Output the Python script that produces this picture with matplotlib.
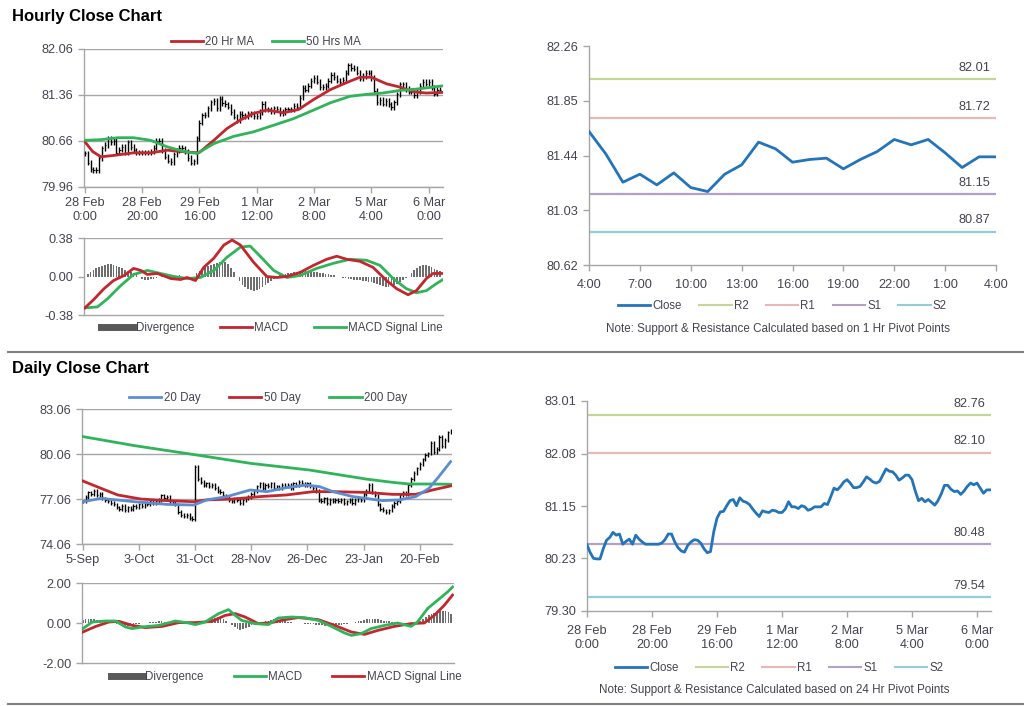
import numpy as np
import matplotlib
matplotlib.use("Agg")
import matplotlib.pyplot as plt
from matplotlib.lines import Line2D

plt.rcParams['font.family'] = ['Liberation Sans', 'DejaVu Sans']

# ---------------- hourly data (28 Feb 0:00 -> 6 Mar 4:00, trading hours) ----------------
hourly_close = [
    80.47, 80.33, 80.23, 80.22, 80.22, 80.40, 80.55, 80.60, 80.69, 80.64,
    80.66, 80.48, 80.53, 80.57, 80.48, 80.64, 80.57, 80.52, 80.48, 80.48,
    80.48, 80.48, 80.48, 80.50, 80.56, 80.66, 80.66, 80.52, 80.42, 80.36,
    80.34, 80.46, 80.52, 80.56, 80.55, 80.50, 80.40, 80.33, 80.35, 80.70,
    80.94, 81.05, 81.06, 81.16, 81.25, 81.27, 81.16, 81.30, 81.24, 81.22,
    81.18, 81.10, 81.03, 80.97, 81.07, 81.05, 81.04, 81.08, 81.07, 81.04,
    81.04, 81.10, 81.23, 81.14, 81.14, 81.11, 81.16, 81.14, 81.08, 81.10,
    81.14, 81.14, 81.14, 81.20, 81.18, 81.32, 81.47, 81.44, 81.50, 81.58,
    81.62, 81.56, 81.48, 81.48, 81.50, 81.58, 81.67, 81.63, 81.58, 81.56,
    81.59, 81.70, 81.81, 81.77, 81.76, 81.70, 81.61, 81.65, 81.70, 81.70,
    81.62, 81.42, 81.25, 81.29, 81.23, 81.27, 81.22, 81.17, 81.25, 81.37,
    81.52, 81.52, 81.45, 81.41, 81.42, 81.36, 81.42, 81.50, 81.56, 81.53,
    81.56, 81.47, 81.38, 81.44, 81.44,
]
hourly_ticks = ["28 Feb\n0:00", "28 Feb\n20:00", "29 Feb\n16:00", "1 Mar\n12:00",
                "2 Mar\n8:00", "5 Mar\n4:00", "6 Mar\n0:00"]

ma20_h = [0, 2.7, 5.6, 10, 17, 23, 28.8, 33.4, 39.8, 45, 49.6, 54.3, 58.9, 63.5,
          69.3, 74.6, 79.8, 85.6, 91.4, 96, 100, 105.3, 110, 114.6, 119.2, 125]
ma20_v = [80.65, 80.50, 80.42, 80.44, 80.48, 80.48, 80.52, 80.50, 80.48, 80.67, 80.85,
          80.98, 81.08, 81.13, 81.09, 81.14, 81.29, 81.44, 81.55, 81.63, 81.63, 81.53,
          81.48, 81.41, 81.39, 81.40]
ma50_h = [0, 5.6, 11.4, 17, 23, 28.8, 34.6, 39.2, 45, 51.9, 58.9, 65.9, 72.8, 79.8,
          85.6, 92.5, 98.3, 104, 110, 115.7, 121.5, 125]
ma50_v = [80.67, 80.68, 80.71, 80.71, 80.67, 80.57, 80.50, 80.47, 80.62, 80.73, 80.80,
          80.90, 81.00, 81.13, 81.24, 81.34, 81.37, 81.39, 81.43, 81.45, 81.48, 81.50]

macd_h = [0, 3, 6.7, 10, 13.7, 17, 19.5, 21.8, 25.3, 30, 33.4, 35.7, 38.6, 41.5, 45,
          48.5, 51.4, 54.3, 58.9, 63.5, 67, 70.5, 75.1, 79.8, 84.4, 87.9, 91.4, 96,
          100.6, 105.3, 108.8, 112.8, 115.7, 119.2, 121.5, 125]
macd_v = [-0.31, -0.23, -0.12, -0.04, 0.01, 0.08, 0.06, 0.02, 0.03, -0.02, -0.03, -0.01,
          -0.04, 0.09, 0.18, 0.31, 0.36, 0.31, 0.14, 0.00, -0.01, 0.00, 0.04, 0.11, 0.17,
          0.20, 0.17, 0.15, 0.09, -0.04, -0.12, -0.18, -0.14, -0.02, 0.03, 0.03]
sig_h = [0, 4.4, 7.9, 12.5, 17, 21.8, 26.4, 31.1, 35.7, 40.3, 45, 49.6, 54.3, 57.7,
         61.2, 65.9, 70.5, 75.1, 80.9, 86.7, 92.5, 98.3, 103, 107.6, 112.2, 115.7,
         119.2, 122.7, 125]
sig_v = [-0.31, -0.30, -0.22, -0.09, 0.02, 0.06, 0.03, 0.00, -0.02, -0.01, 0.06, 0.19,
         0.29, 0.30, 0.20, 0.06, -0.01, 0.01, 0.08, 0.13, 0.17, 0.16, 0.11, -0.02, -0.12,
         -0.16, -0.14, -0.07, -0.03]
hourly_div = [
    0.00, 0.02,
    0.04, 0.06, 0.08, 0.09, 0.10, 0.11, 0.12, 0.12, 0.11, 0.10, 0.09, 0.08, 0.06, 0.05,
    0.04, 0.03, 0.02, 0.00, -0.02, -0.03, -0.03, -0.02, -0.02, -0.01, 0.00, 0.01, 0.00, -0.01, -0.02,
    -0.01, 0.00, 0.01, 0.00, -0.01, -0.02, -0.01, 0.00,
    0.03, 0.05, 0.07, 0.09, 0.10, 0.11, 0.12, 0.13, 0.14, 0.15, 0.14, 0.12, 0.08, 0.04, 0.00,
    -0.04, -0.08, -0.10, -0.12, -0.13, -0.14, -0.13, -0.12, -0.10, -0.08, -0.06, -0.04, -0.02, 0.00,
    0.01, 0.02, 0.02, 0.03, 0.03, 0.04, 0.04, 0.05, 0.05, 0.05, 0.05, 0.04, 0.04, 0.04, 0.03,
    0.03, 0.02, 0.02, 0.01, 0.01, 0.00, 0.00, -0.01,
    -0.01, -0.02, -0.02, -0.03, -0.03, -0.03, -0.04, -0.04, -0.05, -0.05, -0.06, -0.07, -0.08,
    -0.09, -0.10,
    -0.10, -0.09, -0.08, -0.07, -0.05, -0.03, -0.01, 0.00,
    0.03, 0.06, 0.08, 0.10, 0.11, 0.11, 0.10, 0.09, 0.07, 0.06, 0.05,
]

# 1 hr pivot chart (4:00 -> 4:00)
pivot1_close = [81.62, 81.45, 81.24, 81.30, 81.22, 81.31, 81.20, 81.17, 81.30, 81.37,
                81.54, 81.49, 81.39, 81.41, 81.42, 81.34, 81.41, 81.47, 81.56, 81.52,
                81.56, 81.46, 81.35, 81.43, 81.43]
pivot1_ticks = ["4:00", "7:00", "10:00", "13:00", "16:00", "19:00", "22:00", "1:00", "4:00"]
pivot1_levels = {"R2": 82.01, "R1": 81.72, "S1": 81.15, "S2": 80.87}
pivot24_levels = {"R2": 82.76, "R1": 82.10, "S1": 80.48, "S2": 79.54}

# ---------------- daily data (5-Sep -> early Mar) ----------------
daily_close = [
    76.9, 77.2, 77.5, 77.4, 77.6, 77.3, 77.4, 77.1, 77.0, 76.9,
    76.8, 76.7, 76.5, 76.4, 76.6, 76.3, 76.5, 76.4, 76.6, 76.5,
    76.7, 76.6, 76.8, 76.7, 76.9, 76.8, 76.9, 77.0, 77.3, 77.1,
    77.2, 76.9, 76.8, 76.7, 76.2, 76.0, 75.9, 76.0, 75.8, 75.7,
    79.2, 78.4, 78.2, 78.0, 78.1, 77.9, 78.0, 77.8, 77.6, 77.5,
    77.3, 77.2, 77.0, 76.9, 77.1, 77.0, 76.8, 77.0, 77.1, 77.2,
    77.4, 77.6, 77.9, 78.1, 77.8, 78.0, 77.9, 78.1, 77.8, 77.9,
    77.8, 78.0, 77.9, 78.0, 77.8, 78.1, 78.0, 78.2, 78.1, 78.0,
    78.1, 77.9, 77.8, 77.6, 77.0, 76.9, 77.1, 76.8, 77.0, 76.9,
    77.0, 76.9, 77.0, 76.8, 76.9, 77.0, 76.8, 77.0, 77.1, 77.0,
    77.4, 77.6, 78.0, 77.5, 77.3, 76.7, 76.4, 76.3, 76.2, 76.3,
    76.6, 76.8, 76.9, 77.3, 77.5, 77.4, 78.0, 78.4, 78.8, 79.1,
    79.4, 79.7, 80.0, 80.1, 80.8, 80.2, 80.4, 81.2, 80.6, 81.0, 81.5, 81.6,
]
daily_ticks = ["5-Sep", "3-Oct", "31-Oct", "28-Nov", "26-Dec", "23-Jan", "20-Feb"]

d20_x = [0, 6.5, 18.3, 30, 39.5, 44.2, 51.3, 59.6, 65.5, 72.6, 79.6, 84.4, 89.1, 96.2,
         100.9, 106.8, 112.7, 118.6, 123.3, 126.8, 131]
d20_v = [76.88, 77.10, 76.88, 76.70, 76.66, 77.00, 77.22, 77.66, 77.55, 77.82, 77.99,
         77.88, 77.55, 77.22, 77.10, 76.95, 77.00, 77.22, 77.77, 78.55, 79.55]
d50_x = [0, 6.5, 12.4, 20.6, 30, 39.5, 44.2, 53.7, 63.1, 72.6, 82, 89.1, 100.9, 110.3,
         118.6, 124.5, 131]
d50_v = [78.26, 77.77, 77.33, 77.06, 76.95, 76.88, 77.00, 77.06, 77.22, 77.33, 77.55,
         77.55, 77.50, 77.37, 77.37, 77.66, 77.93]
d200_x = [0, 18.3, 40.7, 59.6, 80.8, 100.9, 110.3, 116.2, 124.5, 131]
d200_v = [81.22, 80.62, 79.99, 79.44, 78.99, 78.39, 78.17, 78.06, 78.06, 78.04]

dmacd_x = [0, 3.4, 8.1, 11.7, 15.2, 17.6, 21.1, 27, 32.9, 37.6, 40, 43.5, 48.3, 51.8,
           54.2, 56.5, 61.2, 66, 69.5, 74.2, 78.9, 83.7, 88.4, 93.1, 95.5, 99, 102.5,
           107.3, 112, 116.7, 119, 122.6, 126.1, 129.7, 131.5]
dmacd_v = [-0.28, 0.05, 0.10, 0.10, -0.20, -0.28, -0.20, -0.12, 0.10, 0.00, -0.08, 0.05,
           0.47, 0.67, 0.38, 0.13, -0.03, -0.08, 0.25, 0.30, 0.27, 0.13, -0.17, -0.50,
           -0.62, -0.53, -0.28, -0.12, 0.00, -0.17, 0.05, 0.72, 1.13, 1.55, 1.80]
dsig_x = [0, 4.6, 9.3, 12.9, 17.6, 22.3, 28.2, 34.1, 40, 45.9, 50.6, 54.2, 57.7, 62.4,
          67.1, 71.9, 76.6, 83.7, 89.6, 95.5, 100.2, 104.9, 110.8, 116.7, 121.4, 125,
          128.5, 131.5]
dsig_v = [-0.45, -0.17, 0.05, 0.08, -0.12, -0.23, -0.17, 0.02, 0.02, 0.08, 0.38, 0.47,
          0.30, -0.03, 0.02, 0.17, 0.27, 0.17, -0.12, -0.45, -0.57, -0.37, -0.17, -0.03,
          0.00, 0.38, 0.88, 1.40]
daily_div = [
    0.15, 0.18, 0.20, 0.20, 0.18, 0.15, 0.12, 0.10, 0.08, 0.05,
    0.02, 0.00, -0.05, -0.10, -0.14, -0.16, -0.15, -0.12, -0.08, -0.05,
    -0.03, -0.02, 0.00, 0.02, 0.04, 0.06, 0.07, 0.08, 0.08, 0.07,
    0.06, 0.05, 0.04, 0.02, 0.00, -0.02, -0.04, -0.05, -0.05, -0.04,
    -0.03, 0.00, 0.05, 0.10, 0.15, 0.20, 0.24, 0.27, 0.30, 0.28,
    0.22, 0.12, 0.00, -0.12, -0.22, -0.30, -0.35, -0.32, -0.25, -0.18,
    -0.12, -0.08, -0.04, 0.00, 0.04, 0.08, 0.12, 0.16, 0.18, 0.18,
    0.16, 0.14, 0.10, 0.07, 0.04, 0.02, 0.00, -0.01, -0.02, -0.03,
    -0.04, -0.05, -0.06, -0.08, -0.10, -0.12, -0.13, -0.14, -0.14, -0.13,
    -0.12, -0.10, -0.08, -0.06, -0.04, -0.02, 0.00, 0.04, 0.08, 0.12,
    0.16, 0.20, 0.22, 0.22, 0.20, 0.18, 0.15, 0.12, 0.10, 0.08,
    0.06, 0.04, 0.02, 0.00, -0.02, -0.04, -0.05, -0.04, -0.02, 0.00,
    0.10, 0.20, 0.30, 0.38, 0.45, 0.50, 0.55, 0.58, 0.60, 0.58, 0.55, 0.45,
]

# ---------------- styling ----------------
RED = '#c3262e'
GREEN = '#2fb45a'
BLUE_MA = '#5b8ed1'
CLOSE_BLUE = '#2474b9'
LEVEL_COLORS = {"R2": '#c4d79b', "R1": '#e6b8b7', "S1": '#b1a0c7', "S2": '#92cddc'}
AX_GREY = '#a6a6a6'
TXT = '#45434f'
W, H = 1024, 706


def box(l, t, r, b):
    return [l / W, 1 - b / H, (r - l) / W, (b - t) / H]


def style(ax):
    for s in ['top', 'right']:
        ax.spines[s].set_visible(False)
    for s in ['left', 'bottom']:
        ax.spines[s].set_color(AX_GREY)
        ax.spines[s].set_linewidth(1.0)
    ax.tick_params(colors=AX_GREY, labelcolor=TXT, labelsize=9.2, length=4, width=1)


def ohlc(ax, close, wick):
    c = np.array(close)
    o = np.r_[c[0], c[:-1]]
    x = np.arange(len(c))
    ax.vlines(x, np.minimum(o, c) - wick, np.maximum(o, c) + wick, color='black', lw=1.0, zorder=3)
    ax.hlines(c, x, x + 0.45, color='black', lw=0.8, zorder=3)


def flegend(fig, handles, labels, cx, cy, colsp=1.5):
    fig.legend(handles, labels, loc='center', bbox_to_anchor=(cx / W, 1 - cy / H), ncol=len(handles),
               frameon=False, fontsize=8.3, handlelength=2.8, handletextpad=0.2, columnspacing=colsp,
               labelcolor=TXT)


def line(c, lw=2):
    return Line2D([], [], color=c, lw=lw)


fig = plt.figure(figsize=(10.24, 7.06), dpi=100)

fig.text(12 / W, 1 - 16 / H, "Hourly Close Chart", fontsize=12, fontweight='bold', va='center')
fig.text(12 / W, 1 - 369 / H, "Daily Close Chart", fontsize=12, fontweight='bold', va='center')
for yy in [352, 704]:
    fig.add_artist(Line2D([8 / W, 1.0], [1 - yy / H, 1 - yy / H], color='#808080', lw=1.5))

# ---- hourly price ----
ax = fig.add_axes(box(84, 49, 443, 187))
style(ax)
ohlc(ax, hourly_close, 0.04)
ax.plot(ma20_h, ma20_v, color=RED, lw=2, zorder=4)
ax.plot(ma50_h, ma50_v, color=GREEN, lw=2, zorder=4)
ax.set_ylim(79.96, 82.06)
ax.set_yticks([79.96, 80.66, 81.36, 82.06])
ax.yaxis.grid(True, color=AX_GREY, lw=1)
ax.set_axisbelow(True)
ax.set_xlim(-0.3, 125)
ax.set_xticks(np.arange(0, 121, 20))
ax.set_xticklabels(hourly_ticks)
flegend(fig, [line(RED), line(GREEN)], ["20 Hr MA", "50 Hrs MA"], 266, 42)

# ---- hourly MACD ----
ax = fig.add_axes(box(84, 238, 443, 315))
style(ax)
ax.bar(np.arange(len(hourly_div)), hourly_div, width=0.6, color='#6e6e6e', zorder=2)
ax.plot(macd_h, macd_v, color=RED, lw=2, zorder=4)
ax.plot(sig_h, sig_v, color=GREEN, lw=2, zorder=3)
ax.set_ylim(-0.38, 0.38)
ax.set_yticks([-0.38, 0.0, 0.38])
ax.set_yticklabels(["-0.38", "0.00", "0.38"])
ax.axhline(0.38, color=AX_GREY, lw=1)
ax.set_xlim(-0.3, 125)
ax.set_xticks([])
flegend(fig, [line('#595959', 5), line(RED), line(GREEN)],
        ["Divergence", "MACD", "MACD Signal Line"], 272, 328, colsp=2.2)


def pivot_chart(box_px, close, levels, ylim, yticks, xticks, xlabels, xmax, legend_y, note_y, note):
    ax = fig.add_axes(box(*box_px))
    style(ax)
    for name, val in levels.items():
        ax.axhline(val, color=LEVEL_COLORS[name], lw=1.6, zorder=2)
        ax.annotate(f"{val:.2f}", (xmax, val), xytext=(-4, 4), textcoords='offset points',
                    ha='right', va='bottom', fontsize=9.2, color=TXT)
    ax.plot(np.arange(len(close)), close, color=CLOSE_BLUE, lw=2, zorder=3)
    ax.set_ylim(*ylim)
    ax.set_yticks(yticks)
    ax.set_yticklabels([f"{v:.2f}" for v in yticks])
    ax.set_xlim(0, xmax)
    ax.set_xticks(xticks)
    ax.set_xticklabels(xlabels)
    ax.tick_params(axis='x', pad=6)
    handles = [line(CLOSE_BLUE, 2)] + [line(LEVEL_COLORS[k], 1.5) for k in ["R2", "R1", "S1", "S2"]]
    flegend(fig, handles, ["Close", "R2", "R1", "S1", "S2"], (box_px[0] + box_px[2]) / 2 - 10, legend_y)
    fig.text(((box_px[0] + box_px[2]) / 2 - 15) / W, 1 - note_y / H, note, ha='center', va='center',
             fontsize=8.4, color=TXT)


pivot_chart((589, 46, 996, 265), pivot1_close, pivot1_levels, (80.62, 82.26),
            [80.62, 81.03, 81.44, 81.85, 82.26], np.arange(0, 25, 3), pivot1_ticks, 24,
            306, 329, "Note: Support & Resistance Calculated based on 1 Hr Pivot Points")

pivot_chart((587, 401, 991, 611), hourly_close, pivot24_levels, (79.30, 83.01),
            [79.30, 80.23, 81.15, 82.08, 83.01], np.arange(0, 121, 20), hourly_ticks, 124.3,
            668, 690, "Note: Support & Resistance Calculated based on 24 Hr Pivot Points")

# ---- daily price ----
ax = fig.add_axes(box(82, 409, 452, 544))
style(ax)
ohlc(ax, daily_close, 0.12)
ax.plot(d200_x, d200_v, color=GREEN, lw=2, zorder=4)
ax.plot(d50_x, d50_v, color=RED, lw=2, zorder=4)
ax.plot(d20_x, d20_v, color=BLUE_MA, lw=2, zorder=4)
ax.set_ylim(74.06, 83.06)
ax.set_yticks([74.06, 77.06, 80.06, 83.06])
ax.yaxis.grid(True, color=AX_GREY, lw=1)
ax.set_axisbelow(True)
ax.set_xlim(-0.3, 131.5)
ax.set_xticks(np.arange(0, 121, 20))
ax.set_xticklabels(daily_ticks)
flegend(fig, [line(BLUE_MA), line(RED), line(GREEN)], ["20 Day", "50 Day", "200 Day"], 268, 398, colsp=2.5)

# ---- daily MACD ----
ax = fig.add_axes(box(82, 583, 454, 663))
style(ax)
ax.bar(np.arange(len(daily_div)), daily_div, width=0.6, color='#6e6e6e', zorder=2)
ax.plot(dsig_x, dsig_v, color=RED, lw=2, zorder=3)
ax.plot(dmacd_x, dmacd_v, color=GREEN, lw=2, zorder=4)
ax.set_ylim(-2, 2)
ax.set_yticks([-2, 0, 2])
ax.set_yticklabels(["-2.00", "0.00", "2.00"])
ax.axhline(2, color=AX_GREY, lw=1)
ax.set_xlim(-0.3, 132)
ax.set_xticks([])
flegend(fig, [line('#595959', 5), line(GREEN), line(RED)],
        ["Divergence", "MACD", "MACD Signal Line"], 286, 677, colsp=2.6)

fig.savefig("out.png", dpi=100)
